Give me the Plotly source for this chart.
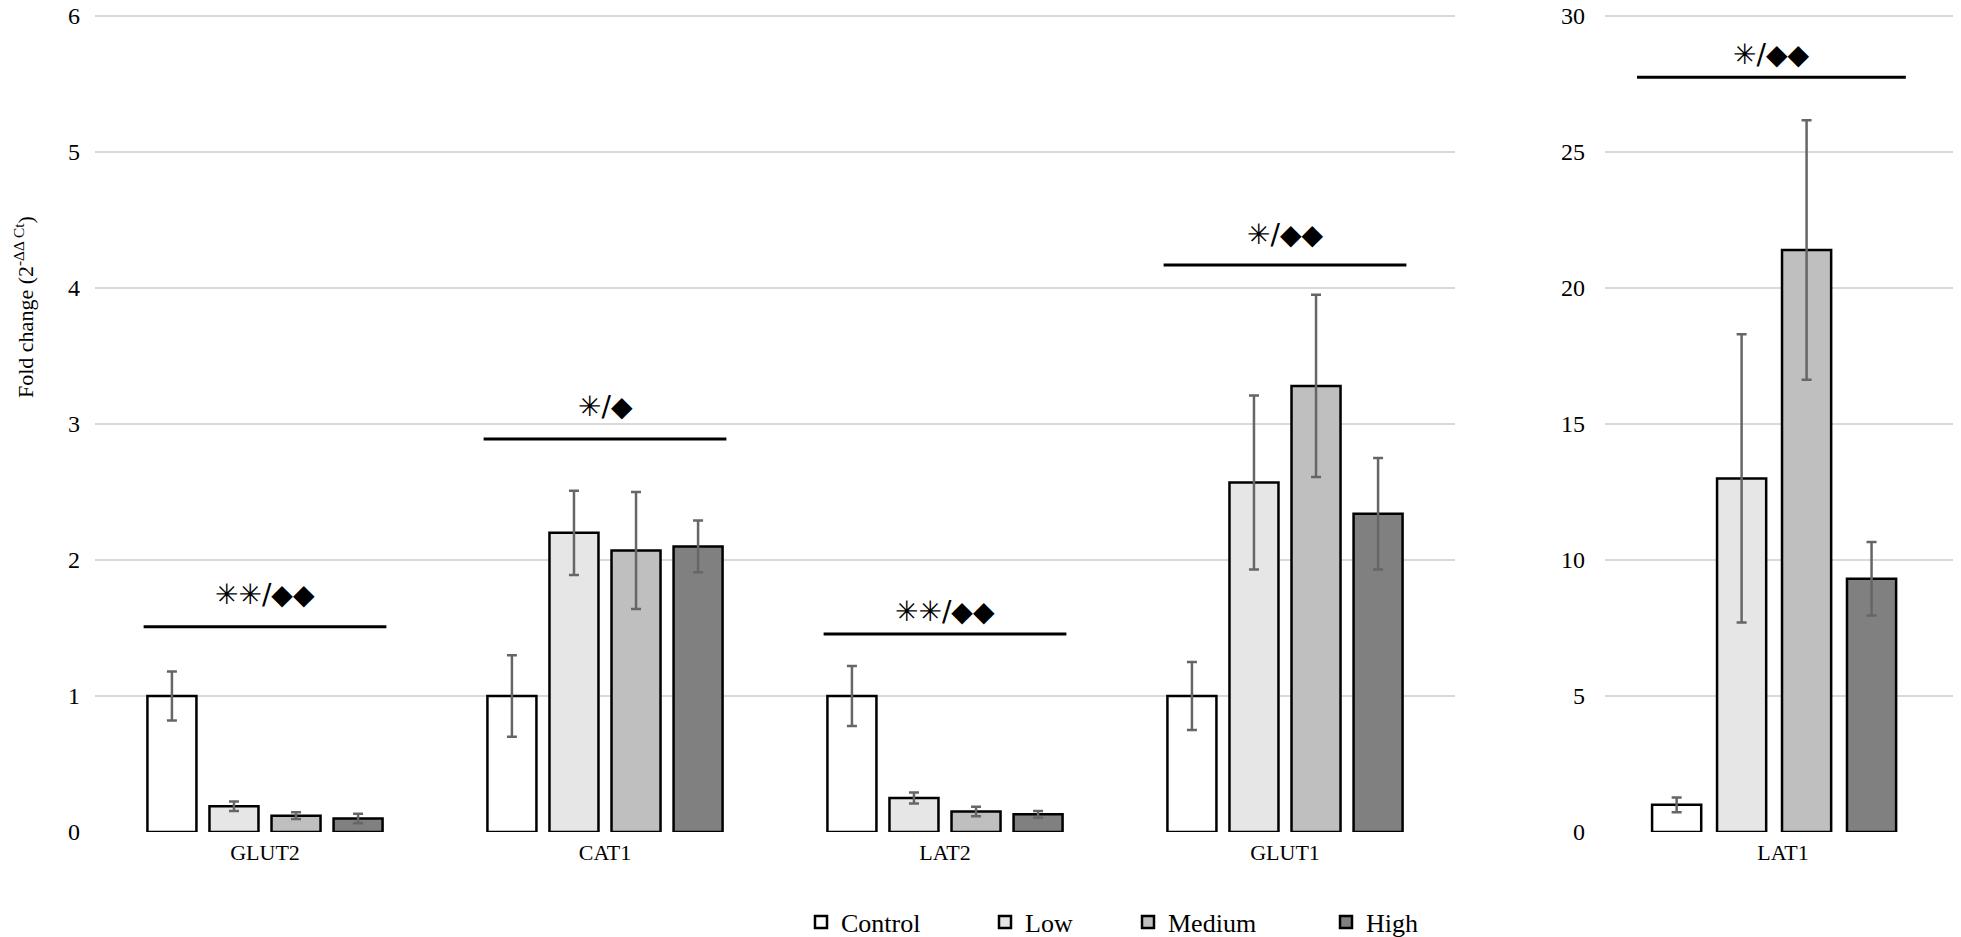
import plotly.graph_objects as go

# ---------------- data ----------------
genes_left = ["GLUT2", "CAT1", "LAT2", "GLUT1"]
genes_right = ["LAT1"]
groups = ["Control", "Low", "Medium", "High"]

control_left = [1.00, 1.00, 1.00, 1.00]
low_left = [0.19, 2.20, 0.25, 2.57]
medium_left = [0.12, 2.07, 0.15, 3.28]
high_left = [0.10, 2.10, 0.13, 2.34]

control_left_err = [0.18, 0.30, 0.22, 0.25]
low_left_err = [0.035, 0.31, 0.04, 0.64]
medium_left_err = [0.025, 0.43, 0.035, 0.67]
high_left_err = [0.035, 0.19, 0.025, 0.41]

control_right = [1.00]
low_right = [13.0]
medium_right = [21.4]
high_right = [9.31]

control_right_err = [0.27]
low_right_err = [5.3]
medium_right_err = [4.77]
high_right_err = [1.35]

sig_left_text = ["✳✳/◆◆", "✳/◆", "✳✳/◆◆", "✳/◆◆"]
sig_left_line_y = [1.51, 2.89, 1.455, 4.17]
sig_left_text_y = [1.75, 3.13, 1.62, 4.39]
sig_right_text = ["✳/◆◆"]
sig_right_line_y = [27.75]
sig_right_text_y = [28.6]

y_left_ticks = [0, 1, 2, 3, 4, 5, 6]
y_right_ticks = [0, 5, 10, 15, 20, 25, 30]

# ---------------- style ----------------
fill_colors = ["#ffffff", "#e6e6e6", "#bfbfbf", "#808080"]
SERIF = "Liberation Serif, Times New Roman, serif"
PAGE_OFF = 8                      # default body margin of the html page
W, H = 1961 - PAGE_OFF, 937 - PAGE_OFF
legend_ids = ["legend", "legend2", "legend3", "legend4"]
legend_x_px = [793, 977, 1120, 1318]

left_vals = [control_left, low_left, medium_left, high_left]
left_errs = [control_left_err, low_left_err, medium_left_err, high_left_err]
right_vals = [control_right, low_right, medium_right, high_right]
right_errs = [control_right_err, low_right_err, medium_right_err, high_right_err]

# right panel: bar width / slot layout in category units
r_bar_w = 0.138
r_slot = 0.1825
r_shift = -0.025

fig = go.Figure()
for i, g in enumerate(groups):
    fig.add_trace(go.Bar(
        x=genes_left, y=left_vals[i], name=g, legendgroup=g, legend=legend_ids[i],
        marker=dict(color=fill_colors[i], line=dict(color="#000000", width=2.5)),
        error_y=dict(type="data", array=left_errs[i], color="#666666", thickness=2.5, width=5),
        xaxis="x", yaxis="y", showlegend=True,
    ))
for i, g in enumerate(groups):
    fig.add_trace(go.Bar(
        x=genes_right, y=right_vals[i], name=g, legendgroup=g, legend=legend_ids[i],
        width=r_bar_w, offset=(i - 1.5) * r_slot + r_shift - r_bar_w / 2,
        marker=dict(color=fill_colors[i], line=dict(color="#000000", width=2.5)),
        error_y=dict(type="data", array=right_errs[i], color="#666666", thickness=2.5, width=5),
        xaxis="x2", yaxis="y2", showlegend=False,
    ))

# plot area in figure pixels
y_bottom_px, y_top_px = 824, 8
unit_left = (y_bottom_px - y_top_px) / 6.0
ymax_left = 6.01
ymax_right = 30.05
ydom = [(H - y_bottom_px) / H, min(1.0, (H - y_top_px + 0.01 * unit_left) / H)]

legend_common = dict(orientation="h", xanchor="left", y=15 / H, yanchor="middle",
                     font=dict(family=SERIF, size=26, color="#000000"),
                     bgcolor="rgba(0,0,0,0)")

fig.update_layout(
    width=W, height=H,
    margin=dict(l=0, r=0, t=0, b=0, autoexpand=False),
    paper_bgcolor="white", plot_bgcolor="white",
    barmode="group", bargap=0.27, bargroupgap=0.21,
    font=dict(family=SERIF, size=22, color="#000000"),
    xaxis=dict(domain=[87 / W, 1447 / W], anchor="y", type="category",
               showgrid=False, showline=False, zeroline=False, ticks="",
               ticklabelstandoff=5, tickfont=dict(size=22), automargin=False),
    yaxis=dict(domain=ydom, anchor="x", range=[0, ymax_left], tickvals=y_left_ticks,
               showgrid=True, gridcolor="#d9d9d9", gridwidth=2, zeroline=False,
               showline=False, ticks="", ticklabelstandoff=14, tickfont=dict(size=24),
               ticklabeloverflow="allow", automargin=False),
    xaxis2=dict(domain=[1597 / W, 1.0], anchor="y2", type="category",
                showgrid=False, showline=False, zeroline=False, ticks="",
                ticklabelstandoff=5, tickfont=dict(size=22), automargin=False),
    yaxis2=dict(domain=ydom, anchor="x2", range=[0, ymax_right], tickvals=y_right_ticks,
                showgrid=True, gridcolor="#d9d9d9", gridwidth=2, zeroline=False,
                showline=False, ticks="", ticklabelstandoff=19, tickfont=dict(size=24),
                ticklabeloverflow="allow", automargin=False),
    showlegend=True,
)
for lid, lx in zip(legend_ids, legend_x_px):
    fig.update_layout({lid: dict(legend_common, x=lx / W)})

# significance lines and labels
half = 0.357
for i, gname in enumerate(genes_left):
    fig.add_shape(type="line", xref="x", yref="y", x0=i - half, x1=i + half,
                  y0=sig_left_line_y[i], y1=sig_left_line_y[i],
                  line=dict(color="#000000", width=3))
    fig.add_annotation(x=i, y=sig_left_text_y[i], xref="x", yref="y",
                       text=sig_left_text[i], showarrow=False,
                       font=dict(family="DejaVu Sans", size=28, color="#000000"),
                       xanchor="center", yanchor="middle")
for i, gname in enumerate(genes_right):
    fig.add_shape(type="line", xref="x2", yref="y2", x0=i - 0.41, x1=i + 0.345,
                  y0=sig_right_line_y[i], y1=sig_right_line_y[i],
                  line=dict(color="#000000", width=3))
    fig.add_annotation(x=i - 0.035, y=sig_right_text_y[i], xref="x2", yref="y2",
                       text=sig_right_text[i], showarrow=False,
                       font=dict(family="DejaVu Sans", size=28, color="#000000"),
                       xanchor="center", yanchor="middle")

# y-axis title
fig.add_annotation(x=16 / W, y=1 - 299 / H, xref="paper", yref="paper",
                   text="Fold change (2<sup>-ΔΔ Ct</sup>)", textangle=-90,
                   showarrow=False, xanchor="center", yanchor="middle",
                   font=dict(family=SERIF, size=22, color="#000000"))

fig.write_html("out.html")
